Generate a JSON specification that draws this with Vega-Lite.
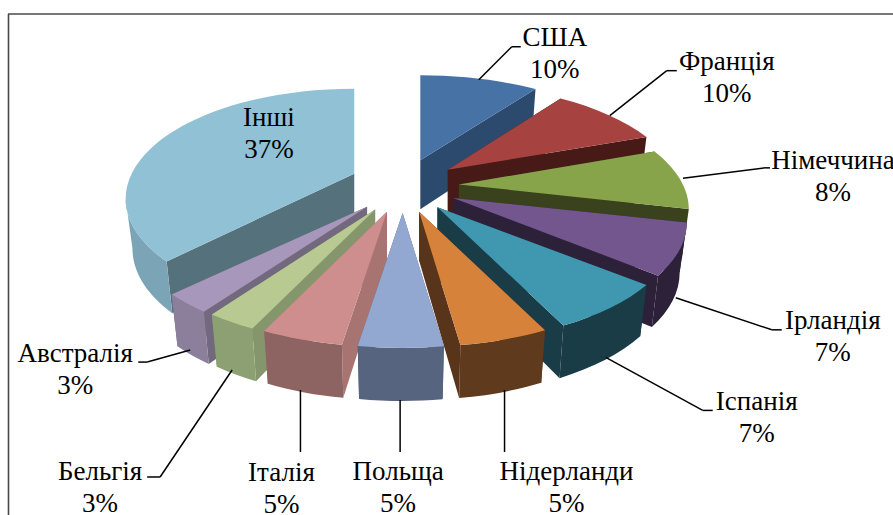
{
"$schema":"https://vega.github.io/schema/vega-lite/v6.json",
"width":885,"height":501,"padding":{"left":8,"top":14,"right":0,"bottom":0},"autosize":{"type":"none"},
"background":"white","view":{"stroke":null},
"config":{"axis":{"disable":true}},
"data":{"values":[
{"i":1,"name":"США","percent":10,"share":10.0},
{"i":2,"name":"Франція","percent":10,"share":9.5},
{"i":3,"name":"Німеччина","percent":8,"share":9.1},
{"i":4,"name":"Ірландія","percent":7,"share":7.4},
{"i":5,"name":"Іспанія","percent":7,"share":6.9},
{"i":6,"name":"Нідерланди","percent":5,"share":4.9},
{"i":7,"name":"Польща","percent":5,"share":4.6},
{"i":8,"name":"Італія","percent":5,"share":4.5},
{"i":9,"name":"Бельгія","percent":3,"share":2.8},
{"i":10,"name":"Австралія","percent":3,"share":2.8},
{"i":11,"name":"Інші","percent":37,"share":37.5}
]},
"transform":[
{"window":[{"op":"sum","field":"share","as":"cum"}],"sort":[{"field":"i"}]},
{"calculate":"datum.name=='Інші'?0.96:datum.name=='Німеччина'?0.965:datum.name=='Франція'||datum.name=='Ірландія'?0.98:1","as":"kx"},
{"calculate":"232*datum.kx","as":"ka"},
{"calculate":"238*datum.kx","as":"rx"},
{"calculate":"(datum.cum-datum.share)/100*2*PI","as":"a0"},
{"calculate":"datum.cum/100*2*PI","as":"a1"},
{"calculate":"(datum.a0+datum.a1)/2","as":"am"},
{"calculate":"clamp(datum.a0,103*PI/180,257*PI/180)","as":"o0"},
{"calculate":"clamp(datum.a1,103*PI/180,257*PI/180)","as":"o1"},
{"calculate":"403+56*sin(datum.am)+(datum.name=='Інші'?3:0)","as":"px"},
{"calculate":"186-27*cos(datum.am)-(datum.name=='Інші'?2:0)","as":"py"},
{"calculate":"datum.ka*sin(datum.a0)/(1+0.227*cos(datum.a0))","as":"x0"},
{"calculate":"-104.3*cos(datum.a0)/(1+0.227*cos(datum.a0))","as":"y0"},
{"calculate":"datum.ka*sin(datum.a1)/(1+0.227*cos(datum.a1))","as":"x1"},
{"calculate":"-104.3*cos(datum.a1)/(1+0.227*cos(datum.a1))","as":"y1"},
{"calculate":"datum.ka*sin(datum.o0)/(1+0.227*cos(datum.o0))","as":"u0"},
{"calculate":"-104.3*cos(datum.o0)/(1+0.227*cos(datum.o0))","as":"v0"},
{"calculate":"datum.ka*sin(datum.o1)/(1+0.227*cos(datum.o1))","as":"u1"},
{"calculate":"-104.3*cos(datum.o1)/(1+0.227*cos(datum.o1))","as":"v1"},
{"calculate":"datum.ka*sin(datum.am)/(1+0.227*cos(datum.am))","as":"xm"},
{"calculate":"-104.3*cos(datum.am)/(1+0.227*cos(datum.am))","as":"ym"},
{"calculate":"'M0,0L'+datum.x0+','+datum.y0+'L'+(0.97*datum.x0)+','+(1.03*datum.y0+49)+'L0,49Z'","as":"wallA"},
{"calculate":"'M0,0L'+datum.x1+','+datum.y1+'L'+(0.97*datum.x1)+','+(1.03*datum.y1+49)+'L0,49Z'","as":"wallB"},
{"calculate":"datum.o1>datum.o0?'M'+datum.u0+','+datum.v0+'A'+datum.rx+',110,0,0,1,'+datum.u1+','+datum.v1+'L'+(0.97*datum.u1)+','+(1.03*datum.v1+49)+'A'+(0.97*datum.rx)+',113.3,0,0,0,'+(0.97*datum.u0)+','+(1.03*datum.v0+49)+'Z':'M0,0Z'","as":"outer"},
{"calculate":"'M0,0L'+datum.x0+','+datum.y0+'A'+datum.rx+',110,0,0,1,'+datum.x1+','+datum.y1+'Z'","as":"top"},
{"calculate":"datum.px+(cos(datum.am)<0?0.97*datum.xm:datum.xm)","as":"ancX"},
{"calculate":"datum.py+(cos(datum.am)<0?1.03*datum.ym+49:datum.ym)","as":"ancY"},
{"calculate":"{'США':[-0.5,1,32.5,-32,41.5,-32,75.5,-25],'Франція':[2,1,59,-44,69,-44,119,-37],'Німеччина':[3.6,0,85.6,-10.4,90.6,-10.4,153.6,-1.4],'Ірландія':[2.7,-2,98.7,30,108.7,30,159.7,37],'Іспанія':[-0.4,-2,96.6,51,106.6,51,150.6,59],'Нідерланди':[2.6,-2.3,2.6,59.7,2.6,59.7,64.6,95.7],'Польща':[-0.7,-1,-0.7,51,-0.7,51,-2.7,87],'Італія':[-3.6,-2.3,-3.6,59.7,-3.6,59.7,-22.6,96.7],'Бельгія':[-3.4,-4.4,-75.4,102.6,-88.4,102.6,-135.4,113.6],'Австралія':[-1.8,-5.3,-44.8,6.7,-53.8,6.7,-116.8,14.7],'Інші':[0,0,0,0,0,0,104,-3]}[datum.name]","as":"c"},
{"calculate":"datum.ancX+datum.c[0]","as":"sx"},
{"calculate":"datum.ancY+datum.c[1]","as":"sy"},
{"calculate":"datum.ancX+datum.c[2]","as":"ex"},
{"calculate":"datum.ancY+datum.c[3]","as":"ey"},
{"calculate":"datum.ancX+datum.c[4]","as":"fx"},
{"calculate":"datum.ancY+datum.c[5]","as":"fy"},
{"calculate":"datum.ancX+datum.c[6]","as":"lx"},
{"calculate":"datum.ancY+datum.c[7]-16","as":"ly"},
{"calculate":"datum.name+'\\n'+datum.percent+'%'","as":"label"}
],
"layer":[
{"data":{"values":[{"e":"left"}]},"mark":{"type":"rule","color":"#4a4a4a","strokeWidth":1.6},"encoding":{"x":{"datum":8.5,"type":"quantitative","scale":{"domain":[8,893],"nice":false,"zero":false},"axis":null}}},
{"data":{"values":[{"e":"top"}]},"mark":{"type":"rule","color":"#4a4a4a","strokeWidth":1.6},"encoding":{"y":{"datum":14,"type":"quantitative","scale":{"domain":[14,515],"reverse":true,"nice":false,"zero":false},"axis":null}}},
{"transform":[
{"fold":["wallA","wallB","outer","top"],"as":["part","path"]},
{"calculate":"datum.name+'|'+(datum.part=='top'?'top':datum.part=='outer'?'outer':'wall')","as":"ck"},
{"calculate":"-cos(datum.am)*10+(datum.part=='top'?0.3:datum.part=='outer'?0.2:0.1)","as":"z"}
],
"mark":{"type":"point","filled":true,"opacity":1,"size":4,"strokeWidth":0},
"encoding":{
"x":{"field":"px","type":"quantitative","scale":{"domain":[8,893],"nice":false,"zero":false},"axis":null},
"y":{"field":"py","type":"quantitative","scale":{"domain":[14,515],"reverse":true,"nice":false,"zero":false},"axis":null},
"shape":{"field":"path","type":"nominal","scale":null,"legend":null},
"order":{"field":"z","type":"quantitative"},
"fill":{"field":"ck","type":"nominal","legend":null,"scale":{
"domain":["США|top","США|wall","США|outer","Франція|top","Франція|wall","Франція|outer","Німеччина|top","Німеччина|wall","Німеччина|outer","Ірландія|top","Ірландія|wall","Ірландія|outer","Іспанія|top","Іспанія|wall","Іспанія|outer","Нідерланди|top","Нідерланди|wall","Нідерланди|outer","Польща|top","Польща|wall","Польща|outer","Італія|top","Італія|wall","Італія|outer","Бельгія|top","Бельгія|wall","Бельгія|outer","Австралія|top","Австралія|wall","Австралія|outer","Інші|top","Інші|wall","Інші|outer"],
"range":["#4672A6","#2C4A6E","#2C4A6E","#A64340","#471A18","#471A18","#87A44B","#39421C","#39421C","#73568D","#2D2139","#2D2139","#3F97B0","#193C47","#193C47","#D7823B","#58341A","#5F3A1C","#93A8D0","#566480","#566480","#CE8E8D","#A87472","#8E6463","#B8CA91","#86966C","#8DA074","#A797BA","#73697F","#8C7F9C","#91C1D5","#55717C","#7BA5B6"]}}
}},
{"transform":[{"filter":"datum.name!='Інші'"}],
"mark":{"type":"rule","color":"black","strokeWidth":1.5},
"encoding":{"x":{"field":"sx","type":"quantitative"},"y":{"field":"sy","type":"quantitative"},"x2":{"field":"ex"},"y2":{"field":"ey"}}},
{"transform":[{"filter":"datum.name!='Інші'"}],
"mark":{"type":"rule","color":"black","strokeWidth":1.5},
"encoding":{"x":{"field":"ex","type":"quantitative"},"y":{"field":"ey","type":"quantitative"},"x2":{"field":"fx"},"y2":{"field":"fy"}}},
{"mark":{"type":"text","font":"Liberation Serif","fontSize":27,"lineBreak":"\n","lineHeight":32,"align":"center","baseline":"middle","color":"black"},
"encoding":{"x":{"field":"lx","type":"quantitative"},"y":{"field":"ly","type":"quantitative"},"text":{"field":"label","type":"nominal"}}}
]
}
